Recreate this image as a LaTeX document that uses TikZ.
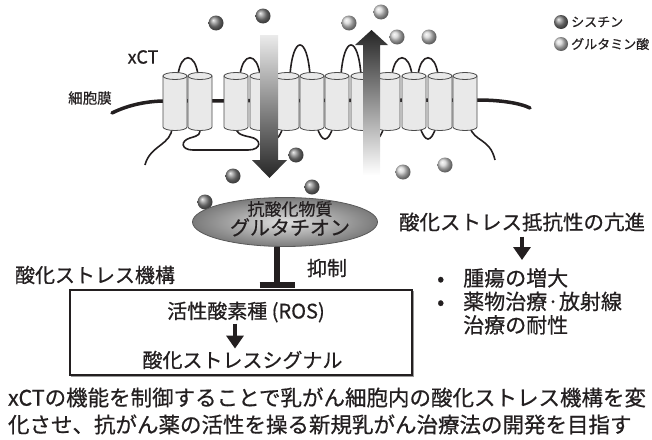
\documentclass[tikz,border=0pt]{standalone}
\usepackage{fontspec}
\setmainfont{Noto Sans CJK JP}[FakeBold=0.6]
\usetikzlibrary{positioning,arrows.meta,shapes.geometric}
\definecolor{InkGray}{RGB}{35,31,32}
\definecolor{HelixFill}{RGB}{233,233,233}
\definecolor{HelixLine}{RGB}{75,75,75}
\newcommand{\fsz}[1]{\fontsize{#1}{#1}\selectfont}

\tikzset{
  helix/.style={fill=HelixFill, draw=HelixLine, line width=0.8pt},
  loopline/.style={line width=1.6pt, InkGray},
  membrane/.style={line width=3.5pt, InkGray, line cap=round},
  cystine/.style={ball color=black!48},
  glutamate/.style={ball color=black!18},
  fatarrow/.style={-{Triangle[width=17pt,length=13pt]}, line width=4.5pt, InkGray},
  gshell/.style={ellipse, minimum width=185pt, minimum height=49pt, draw=black!65,
    line width=0.8pt, inner color=black!12, outer color=black!52},
}

\begin{document}
\begin{tikzpicture}[x=1pt, y=-1pt, every node/.style={text=InkGray, inner sep=0pt}]
  \useasboundingbox (0,0) rectangle (652,439);

  % membrane behind the helices
  \draw[membrane] (112,113) .. controls (130,104) and (150,101) .. (165,101) -- (478,100)
    .. controls (500,100) and (520,103) .. (530,108);

  % extracellular loops
  \foreach \c/\h in {188/52, 250/52, 300/35, 351/35, 402/52, 428/52} {
    \draw[loopline] (\c-10,75) .. controls (\c-7,\h) and (\c+7,\h) .. (\c+10,75);
  }
  % intracellular loops and tails
  \foreach \c in {275, 325, 376, 428} {
    \draw[loopline] (\c-8,127) .. controls (\c-3,143) and (\c+3,143) .. (\c+8,127);
  }
  \draw[loopline] (172,127) .. controls (172,145) and (150,145) .. (145,165);
  \draw[loopline] (200,127) .. controls (200,135) .. (190,138)
    .. controls (180,141) and (181,150) .. (193,150) -- (248,150)
    .. controls (262,150) and (262,139) .. (250,137) .. controls (240,135) and (236,133) .. (236,127);
  \draw[loopline] (470,127) .. controls (474,142) and (490,138) .. (495,160);

  % twelve transmembrane helices
  \foreach \l in {163,188,224,250,275,300,325,351,376,402,428,453} {
    \path[helix] (\l,76) -- (\l,127) arc[start angle=180, end angle=360, x radius=12pt, y radius=3.5pt]
      -- (\l+24,76) -- cycle;
    \draw[helix] (\l+12,76) ellipse[x radius=12pt, y radius=3.5pt];
  }

  % transport arrows
  \shade[top color=black!8, bottom color=black!85] (260,35) -- (278,35) -- (278,160) -- (287,160)
    -- (269.5,178) -- (252,160) -- (260,160) -- cycle;
  \shade[top color=black!85, bottom color=white] (363,175) -- (380,175) -- (380,45) -- (388,45)
    -- (371.5,30) -- (355,45) -- (363,45) -- cycle;

  % amino acids
  \foreach \p in {(216,23), (263,16), (296,155), (233,176), (312,187), (205,202)}
    \shade[cystine] \p circle[radius=7.5pt];
  \foreach \p in {(349,23), (381,12), (397,37), (429,37), (403,172), (445,165)}
    \shade[glutamate] \p circle[radius=7.5pt];

  % legend
  \shade[cystine] (561,22) circle[radius=7pt];
  \node[anchor=west, font=\fsz{13}] (lgcys) at (571,22) {シスチン};
  \shade[glutamate] (561,44) circle[radius=7pt];
  \node[anchor=west, font=\fsz{13}] (lgglu) at (571,44) {グルタミン酸};

  \node[font=\fsz{18}] (xct) at (143,57) {xCT};
  \node[font=\fsz{14.5}] (memb) at (90,98) {細胞膜};

  % glutathione
  \node[gshell] (gsh) at (285,222) {};
  \node[font=\fsz{17}] (aox) at (290,209) {抗酸化物質};
  \node[font=\fsz{20}, below=1pt of aox] (gshname) {グルタチオン};

  % oxidative stress box
  \node[draw=black!40, line width=1.6pt, minimum width=342pt, minimum height=85pt] (mechsh) at (242.5,334) {};
  \node[draw=InkGray, fill=white, line width=1.6pt, minimum width=342pt, minimum height=85pt] (mech) at (241,332.5) {};
  \node[font=\fsz{20}] (ros) at (246,312) {活性酸素種 (ROS)};
  \node[font=\fsz{20}] (sig) at (242.5,360) {酸化ストレスシグナル};
  \draw[fatarrow, shorten <=1pt, shorten >=2pt] ([xshift=-11pt]ros.south) -- ([xshift=-11pt]ros.south |- sig.north);

  \node[font=\fsz{20}] (mechlbl) at (95,275) {酸化ストレス機構};

  % inhibition
  \coordinate (inh) at (277,285);
  \draw[line width=5.5pt, InkGray] (inh |- gsh.south) -- (inh);
  \draw[line width=6pt, InkGray] ([xshift=-17.5pt]inh) -- ([xshift=17.5pt]inh);
  \node[font=\fsz{20}] (inhlbl) at (327,268) {抑制};

  % resistance and its effects
  \node[font=\fsz{20.5}] (resist) at (522,222) {酸化ストレス抵抗性の亢進};
  \node[font=\fontsize{21}{23.5}\selectfont, align=left, anchor=north west] (effects) at (437,268)
    {\makebox[26pt][l]{•}腫瘍の増大\\\makebox[26pt][l]{•}薬物治療·放射線\\\makebox[26pt][l]{}治療の耐性};
  \draw[fatarrow, shorten <=5pt, shorten >=8pt] (resist.south) -- (resist.south |- effects.north);

  % aim
  \node[font=\fontsize{21.5}{27}\selectfont, align=left] (aim) at (327,411)
    {xCTの機能を制御することで乳がん細胞内の酸化ストレス機構を変\\化させ、抗がん薬の活性を操る新規乳がん治療法の開発を目指す};
\end{tikzpicture}
\end{document}
